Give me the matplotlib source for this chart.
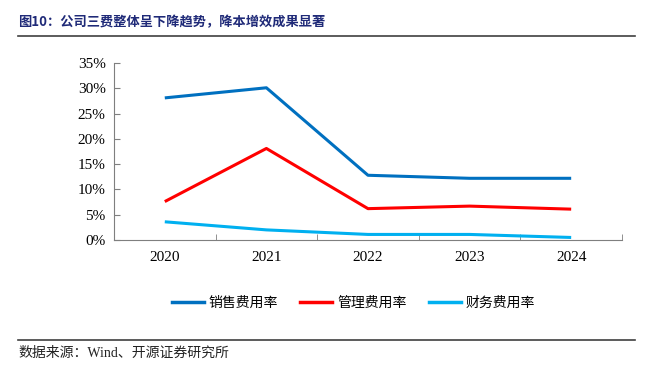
import matplotlib
matplotlib.use('Agg')
import matplotlib.pyplot as plt
from matplotlib.lines import Line2D

plt.rcParams['font.family'] = ['Liberation Serif', 'Noto Sans CJK SC']

years = ['2020', '2021', '2022', '2023', '2024']
sales_rate = [28.1, 30.1, 12.8, 12.2, 12.2]
admin_rate = [7.6, 18.1, 6.2, 6.7, 6.1]
fin_rate = [3.6, 2.0, 1.1, 1.1, 0.5]
series_names = ['销售费用率', '管理费用率', '财务费用率']
colors = ['#0070C0', '#FF0000', '#00B0F0']

fig = plt.figure(figsize=(6.67, 3.77), dpi=100)
ax = fig.add_axes([0.1709, 0.3634, 0.7616, 0.4695])

x = list(range(len(years)))
for vals, c in zip([sales_rate, admin_rate, fin_rate], colors):
    ax.plot(x, vals, color=c, lw=2.2, solid_capstyle='butt')

ax.set_xlim(-0.5, len(years) - 0.5)
ax.set_ylim(0, 35)
ax.set_yticks(range(0, 36, 5))
ax.set_yticklabels([f'{v}%' for v in range(0, 36, 5)], fontsize=11)
ax.set_xticks(x)
ax.set_xticklabels(years, fontsize=11)
ax.set_xticks([i - 0.5 for i in range(len(years) + 1)], minor=True)
ax.tick_params(axis='x', which='major', length=0, pad=8)
ax.tick_params(axis='x', which='minor', direction='in', length=4, color='#7f7f7f')
ax.tick_params(axis='y', direction='in', length=4, color='#7f7f7f', pad=6)
for s in ['top', 'right']:
    ax.spines[s].set_visible(False)
for s in ['left', 'bottom']:
    ax.spines[s].set_color('#7f7f7f')

handles = [Line2D([0], [0], color=c, lw=2.5) for c in colors]
fig.legend(handles, series_names, loc='center', bbox_to_anchor=(0.53, 0.196),
           ncol=3, frameon=False, handlelength=2.3, handletextpad=0.35,
           columnspacing=1.6, prop={'family': 'Noto Sans CJK SC', 'size': 10})

# 标题与数据来源
fig.text(0.027, 0.94, '图10：公司三费整体呈下降趋势，降本增效成果显著', fontsize=9.5,
         fontweight='bold', color='#1F2A78', family=['Noto Sans CJK SC'], va='center')
fig.add_artist(Line2D([0.027, 0.952], [0.905, 0.905], color='#404040', lw=1.2))
fig.add_artist(Line2D([0.027, 0.952], [0.098, 0.098], color='#404040', lw=1.2))
fig.text(0.027, 0.063, '数据来源：Wind、开源证券研究所', fontsize=10, color='#222222',
         family=['Liberation Serif', 'Noto Sans CJK SC'], va='center')

fig.savefig('out.png', dpi=100)
